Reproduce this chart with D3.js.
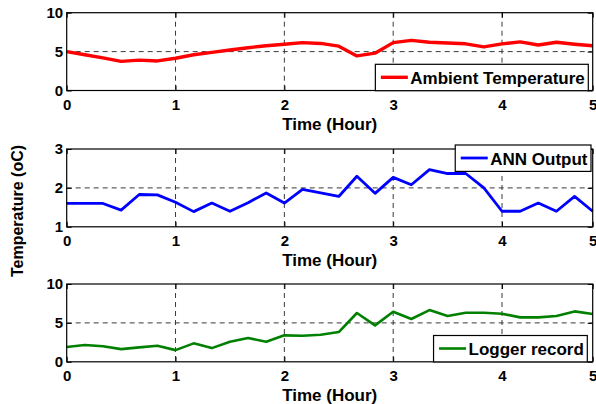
<!DOCTYPE html>
<html>
<head>
<meta charset="utf-8">
<script src="https://cdn.jsdelivr.net/npm/d3@7"></script>
<style>
  body { margin: 0; background: #fff; }
  svg text { font-family: "Liberation Sans", Arial, Helvetica, sans-serif; font-weight: bold; fill: #000; }
</style>
</head>
<body>
<svg id="chart" width="596" height="404"></svg>
<script>
// sample times, minutes from start (one reading every 10 min)
const timeMin = [0, 10, 20, 30, 40, 50, 60, 70, 80, 90, 100, 110, 120, 130, 140,
                 150, 160, 170, 180, 190, 200, 210, 220, 230, 240, 250, 260, 270, 280, 290];

const ambientTemp = [5.0, 4.6, 4.2, 3.75, 3.9, 3.8, 4.15, 4.6, 4.9, 5.2, 5.5, 5.75, 5.95, 6.15, 6.05,
                     5.7, 4.45, 4.8, 6.15, 6.45, 6.2, 6.1, 6.0, 5.6, 6.0, 6.25, 5.85, 6.2, 5.95, 5.75];

const annOutput = [1.6, 1.6, 1.6, 1.43, 1.83, 1.82, 1.63, 1.39, 1.61, 1.4, 1.62, 1.87, 1.61, 1.96, 1.87,
                   1.78, 2.3, 1.86, 2.27, 2.08, 2.47, 2.37, 2.37, 2.0, 1.4, 1.4, 1.61, 1.4, 1.78, 1.4];

const loggerRecord = [1.9, 2.15, 2.0, 1.63, 1.85, 2.06, 1.5, 2.37, 1.76, 2.57, 3.05, 2.57, 3.4, 3.35, 3.47,
                      3.82, 6.27, 4.68, 6.44, 5.5, 6.65, 5.88, 6.3, 6.3, 6.18, 5.71, 5.71, 5.88, 6.48, 6.14];

const seriesNames = ["Ambient Temperature", "ANN Output", "Logger record"];
const seriesColors = ["#ff0000", "#0000ff", "#008000"];
const yDomains = [[0, 10], [1, 3], [0, 10]];
const yTickValues = [[0, 5, 10], [1, 2, 3], [0, 5, 10]];

const xTickValues = [0, 60, 120, 180, 240, 290];
const xTickLabels = ["0", "1", "2", "3", "4", "5"];
const xTitle = "Time (Hour)";
const yTitle = "Temperature (oC)";

// layout
const left = 66.7, right = 592.7;
const panelTops = [12.7, 149, 284];
const panelH = 77.8;
const lineWidths = [3.4, 2.8, 2.6];
// legend placement: right edge and top of the box
const legendRight = [588.3, 591, 587.3];
const legendTop = [64.3, 145, 335.5];

const svg = d3.select("svg#chart");

const xScale = d3.scaleLinear().domain([0, 290]).range([left, right]);

const panels = seriesNames.map((name, i) => ({
    name: name,
    color: seriesColors[i],
    values: [ambientTemp, annOutput, loggerRecord][i],
    yDomain: yDomains[i],
    yTicks: yTickValues[i],
    top: panelTops[i]
}));

panels.forEach((p, i) => {
    const bottom = p.top + panelH;
    const yScale = d3.scaleLinear().domain(p.yDomain).range([bottom, p.top]);
    const g = svg.append("g").attr("class", "panel");

    // dashed grid
    g.selectAll(".vgrid")
        .data(xTickValues.slice(1, -1))
        .enter()
        .append("line")
        .attr("x1", d => xScale(d)).attr("x2", d => xScale(d))
        .attr("y1", p.top).attr("y2", bottom)
        .attr("stroke", "#3a3a3a").attr("stroke-width", 1)
        .attr("stroke-dasharray", "5,4");

    g.selectAll(".hgrid")
        .data(p.yTicks.slice(1, -1))
        .enter()
        .append("line")
        .attr("x1", left).attr("x2", right)
        .attr("y1", d => yScale(d)).attr("y2", d => yScale(d))
        .attr("stroke", "#3a3a3a").attr("stroke-width", 1)
        .attr("stroke-dasharray", "5,4");

    // axes, ticks point inward like matlab
    const xAxis = g.append("g")
        .attr("transform", `translate(0,${bottom})`)
        .call(d3.axisBottom(xScale)
            .tickValues(xTickValues)
            .tickFormat((d, k) => xTickLabels[k])
            .tickSizeInner(-5).tickSizeOuter(0).tickPadding(9));
    xAxis.select(".domain").remove();
    xAxis.selectAll("text").style("font-size", "15px");

    g.append("g")
        .attr("transform", `translate(0,${p.top})`)
        .call(d3.axisTop(xScale).tickValues(xTickValues).tickFormat("").tickSizeInner(-5).tickSizeOuter(0))
        .select(".domain").remove();

    const yAxis = g.append("g")
        .attr("transform", `translate(${left},0)`)
        .call(d3.axisLeft(yScale)
            .tickValues(p.yTicks)
            .tickFormat(d3.format("d"))
            .tickSizeInner(-5).tickSizeOuter(0).tickPadding(3.5));
    yAxis.select(".domain").remove();
    yAxis.selectAll("text").style("font-size", "15px");

    g.append("g")
        .attr("transform", `translate(${right},0)`)
        .call(d3.axisRight(yScale).tickValues(p.yTicks).tickFormat("").tickSizeInner(-5).tickSizeOuter(0))
        .select(".domain").remove();

    g.selectAll(".tick line").attr("stroke", "#000");

    // the series line
    const line = d3.line()
        .x((d, k) => xScale(timeMin[k]))
        .y(d => yScale(d));

    g.append("path")
        .datum(p.values)
        .attr("fill", "none")
        .attr("stroke", p.color)
        .attr("stroke-width", lineWidths[i])
        .attr("stroke-linejoin", "round")
        .attr("d", line);

    // frame
    g.append("rect")
        .attr("x", left).attr("y", p.top)
        .attr("width", right - left).attr("height", panelH)
        .attr("fill", "none").attr("stroke", "#000").attr("stroke-width", 1.2);

    // x title
    g.append("text")
        .attr("x", (left + right) / 2)
        .attr("y", bottom + 39.5)
        .attr("text-anchor", "middle")
        .style("font-size", "17px")
        .text(xTitle);

    // legend
    const lg = g.append("g");
    const box = lg.append("rect")
        .attr("fill", "#fff").attr("stroke", "#000").attr("stroke-width", 1.2);
    const label = lg.append("text")
        .style("font-size", "17px")
        .text(p.name);
    const textLen = label.node().getComputedTextLength();
    const boxW = 5 + 27 + 2.5 + textLen + 4;
    const bx = legendRight[i] - boxW;
    const by = legendTop[i];
    box.attr("x", bx).attr("y", by).attr("width", boxW).attr("height", 26.4);
    lg.append("line")
        .attr("x1", bx + 5.5).attr("x2", bx + 32.5)
        .attr("y1", by + 13).attr("y2", by + 13)
        .attr("stroke", p.color).attr("stroke-width", lineWidths[i]);
    label.attr("x", bx + 35).attr("y", by + 19.7);
});

// shared y title
svg.append("text")
    .attr("transform", "translate(22.5,211) rotate(-90)")
    .attr("text-anchor", "middle")
    .style("font-size", "16px")
    .text(yTitle);
</script>
</body>
</html>
